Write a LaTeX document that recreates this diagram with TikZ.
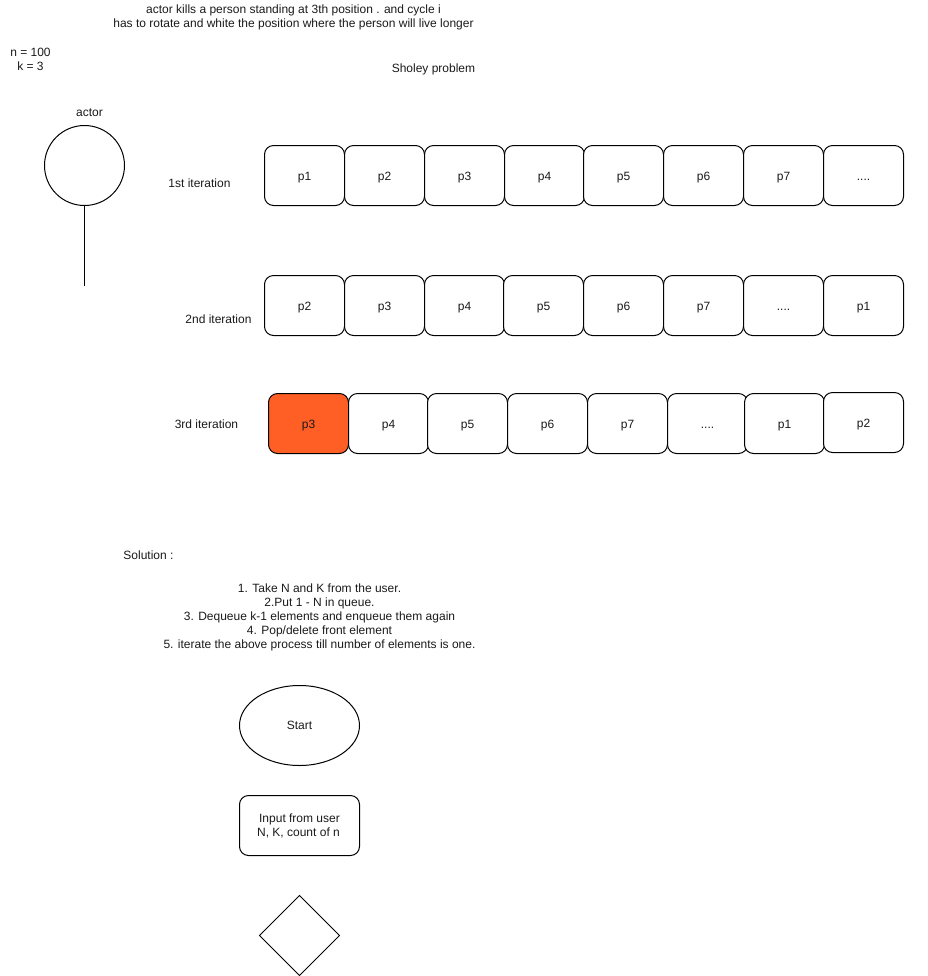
\documentclass[tikz,border=0pt]{standalone}
\usepackage{fontspec}
\setmainfont{Liberation Sans}
\usetikzlibrary{shapes.geometric}
\definecolor{ink}{HTML}{000000}
\definecolor{txt}{HTML}{1A1A1A}
\definecolor{hot}{HTML}{FF5F24}
\newcommand{\fourdots}{....}
\tikzset{
  x=0.75pt,y=-0.75pt,
  shapeline/.style={draw=ink,line width=0.75pt,outer sep=0pt},
  boxbase/.style={shapeline,rectangle,rounded corners=6.75pt,minimum width=60pt,minimum height=45pt,inner sep=0pt,text=txt,font=\fontsize{9pt}{10.5pt}\selectfont},
  cell/.style={boxbase,fill=white,anchor=north west,text height=8pt,text depth=1.2pt},
  caption/.style={align=center,inner sep=0pt,text=txt,font=\fontsize{9pt}{10.5pt}\selectfont},
}
\begin{document}
\begin{tikzpicture}
\useasboundingbox (0,0) rectangle (928,976);
% header texts
\node[caption] (title) at (293.5,17.3) {actor kills a person standing at 3th position . and cycle i\\has to rotate and white the position where the person will live longer};
\node[caption] (params) at (30.5,59) {n = 100\\k = 3};
\node[caption] (sholey) at (433.5,69.3) {Sholey problem};
\node[caption] (actorlabel) at (89.5,112.7) {actor};
% actor
\node[shapeline,circle,minimum size=60pt,inner sep=0pt] (actor) at (84.5,165.5) {};
\coordinate (stickend) at (84.5,285.5);
\draw[shapeline] (actor.south) -- (stickend);
% iteration labels
\node[caption] (it1) at (199.5,183) {1st iteration};
\node[caption] (it2) at (218.5,319) {2nd iteration};
\node[caption] (it3) at (206.5,424) {3rd iteration};
% row 1
\foreach \n/\x/\t in {a1/264.5/p1,a2/344.5/p2,a3/424.5/p3,a4/504.5/p4,a5/583.5/p5,a6/663.5/p6,a7/743.5/p7,a8/823.5/\fourdots}
  \node[cell] (\n) at (\x,145.5) {\t};
% row 2
\foreach \n/\x/\t in {b1/264.5/p2,b2/344.5/p3,b3/424.5/p4,b4/503.5/p5,b5/583.5/p6,b6/663.5/p7,b7/743.5/\fourdots,b8/823.5/p1}
  \node[cell] (\n) at (\x,275.5) {\t};
% row 3
\node[cell,fill=hot] (c1) at (268.5,393.5) {p3};
\foreach \n/\x/\t in {c2/348.5/p4,c3/427.5/p5,c4/507.5/p6,c5/587.5/p7,c6/667.5/\fourdots,c7/744.5/p1}
  \node[cell] (\n) at (\x,393.5) {\t};
\node[cell] (c8) at (823.5,392.5) {p2};
% solution
\node[caption] (solution) at (148.5,555) {Solution :};
\node[caption] (steps) at (319.5,617.3) {1. Take N and K from the user.\\2.Put 1 - N in queue.\\3. Dequeue k-1 elements and enqueue them again\\4. Pop/delete front element\\5. iterate the above process till number of elements is one.};
% flowchart
\node[shapeline,ellipse,minimum width=90pt,minimum height=60pt,inner sep=0pt,text=txt,font=\fontsize{9pt}{10.5pt}\selectfont] (start) at (299.5,725.5) {\raisebox{-0.8pt}{Start}};
\node[boxbase,minimum width=90pt,align=center] (input) at (299.5,825.5) {\raisebox{-1.2pt}{Input from user}\\\raisebox{-1.2pt}{N, K, count of n\hspace{1.5pt}}};
\node[shapeline,diamond,minimum width=60pt,minimum height=60pt,inner sep=0pt] (cond) at (299.5,935.5) {};
\end{tikzpicture}
\end{document}
